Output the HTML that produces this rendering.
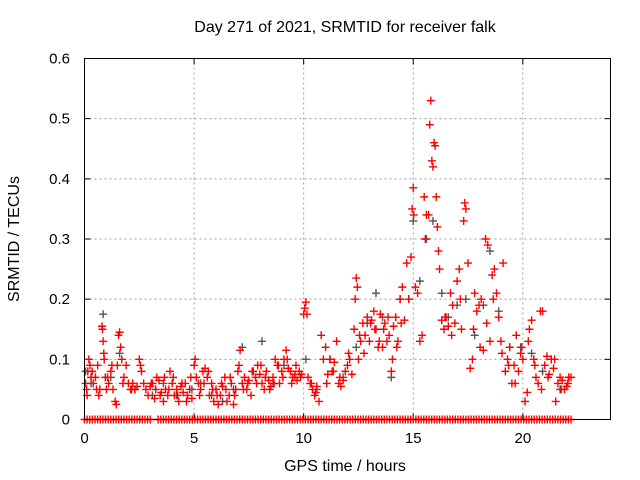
<!DOCTYPE html>
<html><head><meta charset="utf-8"><style>
body{margin:0;background:#fff}
svg{display:block;font-family:"Liberation Sans",sans-serif}
</style></head><body>
<svg id="chart" width="640" height="480" viewBox="0 0 640 480">
<text x="345" y="32" text-anchor="middle" font-size="16">Day 271 of 2021, SRMTID for receiver falk</text>
<text transform="translate(19,239) rotate(-90)" text-anchor="middle" font-size="16">SRMTID / TECUs</text>
<text x="345" y="471" text-anchor="middle" font-size="16">GPS time / hours</text>
<g id="grid"></g>
<g id="axes"></g>
<g id="marks"></g>
<rect x="84.5" y="58.5" width="526" height="361" fill="none" stroke="#000" stroke-width="1"/>
</svg>
<script>
const xTicks=[0,5,10,15,20];
const yTicks=[0,0.1,0.2,0.3,0.4,0.5,0.6];
const yTickLabels=["0","0.1","0.2","0.3","0.4","0.5","0.6"];
const redTimes=[0.05,0.1,0.15,0.2,0.25,0.3,0.4,0.5,0.6,0.7,0.8,0.82,0.85,0.88,0.9,0.95,1.0,1.1,1.2,1.3,1.4,1.45,1.5,1.55,1.6,1.65,1.7,1.8,1.9,2.0,2.1,2.2,2.3,2.4,2.5,2.6,2.7,2.8,2.9,3.0,3.1,3.2,3.3,3.4,3.5,3.6,3.7,3.8,3.9,4.0,4.1,4.2,4.3,4.4,4.5,4.6,4.7,4.8,4.9,5.0,5.05,5.1,5.2,5.3,5.4,5.5,5.6,5.7,5.8,5.9,6.0,6.1,6.2,6.3,6.4,6.5,6.6,6.7,6.8,6.9,7.0,7.1,7.2,7.3,7.4,7.5,7.6,7.7,7.8,7.9,8.0,8.1,8.2,8.3,8.4,8.5,8.6,8.7,8.8,8.9,9.0,9.1,9.2,9.3,9.4,9.5,9.6,9.7,9.8,9.9,10.0,10.05,10.1,10.15,10.2,10.3,10.4,10.5,10.6,10.7,10.8,10.9,11.0,11.1,11.2,11.3,11.4,11.5,11.6,11.7,11.8,11.9,12.0,12.1,12.2,12.3,12.35,12.4,12.45,12.5,12.6,12.7,12.8,12.9,13.0,13.1,13.2,13.3,13.4,13.5,13.6,13.7,13.8,13.9,14.0,14.1,14.2,14.3,14.4,14.5,14.6,14.7,14.8,14.9,14.95,15.0,15.02,15.1,15.2,15.3,15.4,15.5,15.55,15.6,15.7,15.75,15.8,15.85,15.9,15.95,16.0,16.05,16.1,16.2,16.3,16.4,16.5,16.6,16.7,16.8,16.9,17.0,17.1,17.2,17.3,17.35,17.4,17.5,17.6,17.7,17.8,17.9,18.0,18.1,18.2,18.3,18.4,18.5,18.6,18.7,18.8,18.9,19.0,19.1,19.2,19.3,19.4,19.5,19.6,19.7,19.8,19.9,20.0,20.1,20.2,20.3,20.4,20.5,20.6,20.7,20.8,20.9,21.0,21.1,21.2,21.3,21.4,21.5,21.6,21.7,21.8,21.9,22.0,22.1,22.2,
0.12,0.35,0.55,0.65,1.05,1.25,1.75,2.15,2.55,3.05,3.25,3.45,3.65,3.85,4.05,4.25,4.45,4.65,4.85,5.25,5.45,5.65,5.85,6.05,6.25,6.45,6.65,6.85,7.05,7.25,7.45,7.65,7.85,8.05,8.25,8.45,8.65,8.85,9.05,9.25,9.45,9.65,9.85,10.35,10.55,11.05,11.35,11.65,12.05,12.55,12.75,13.05,13.25,13.45,13.65,13.85,14.05,14.25,14.45,16.15,16.45,16.75,17.15,17.75,18.05,18.35,18.65,19.05,19.35,19.65,19.95,20.25,20.55,20.85,21.15,21.45,21.75,22.05];
const redValues=[0.06,0.05,0.08,0.1,0.09,0.07,0.06,0.07,0.09,0.05,0.155,0.15,0.13,0.11,0.1,0.07,0.05,0.06,0.08,0.05,0.03,0.025,0.09,0.14,0.145,0.12,0.1,0.07,0.09,0.06,0.05,0.06,0.05,0.055,0.1,0.08,0.06,0.05,0.04,0.055,0.06,0.035,0.07,0.065,0.045,0.03,0.05,0.04,0.08,0.06,0.04,0.05,0.03,0.055,0.045,0.06,0.04,0.05,0.035,0.09,0.1,0.07,0.06,0.05,0.08,0.085,0.07,0.04,0.06,0.03,0.05,0.025,0.04,0.055,0.07,0.03,0.04,0.06,0.025,0.05,0.08,0.115,0.06,0.07,0.05,0.065,0.04,0.08,0.07,0.09,0.075,0.06,0.05,0.08,0.065,0.055,0.07,0.1,0.09,0.06,0.08,0.1,0.115,0.085,0.08,0.07,0.075,0.065,0.08,0.075,0.175,0.185,0.195,0.175,0.07,0.06,0.05,0.04,0.055,0.03,0.14,0.1,0.12,0.075,0.1,0.08,0.095,0.13,0.06,0.055,0.065,0.08,0.09,0.1,0.075,0.15,0.2,0.235,0.22,0.1,0.13,0.16,0.14,0.17,0.13,0.165,0.18,0.15,0.12,0.175,0.12,0.16,0.13,0.14,0.08,0.155,0.17,0.13,0.2,0.22,0.165,0.26,0.2,0.27,0.35,0.385,0.34,0.22,0.21,0.13,0.14,0.37,0.3,0.34,0.34,0.49,0.53,0.43,0.42,0.46,0.455,0.37,0.32,0.25,0.165,0.15,0.17,0.155,0.21,0.19,0.16,0.23,0.25,0.15,0.33,0.36,0.35,0.26,0.085,0.1,0.21,0.18,0.19,0.2,0.115,0.3,0.29,0.13,0.24,0.25,0.21,0.17,0.13,0.26,0.08,0.1,0.12,0.06,0.09,0.14,0.08,0.11,0.1,0.03,0.045,0.15,0.165,0.1,0.07,0.06,0.18,0.18,0.09,0.105,0.075,0.1,0.085,0.03,0.06,0.07,0.065,0.05,0.055,0.07,0.07,
0.04,0.08,0.05,0.04,0.07,0.09,0.06,0.05,0.09,0.06,0.05,0.04,0.07,0.05,0.07,0.04,0.06,0.03,0.07,0.04,0.06,0.08,0.05,0.04,0.06,0.05,0.07,0.04,0.09,0.05,0.06,0.08,0.06,0.09,0.07,0.05,0.06,0.09,0.07,0.1,0.06,0.09,0.07,0.06,0.045,0.06,0.08,0.07,0.11,0.14,0.11,0.16,0.15,0.13,0.15,0.17,0.1,0.12,0.16,0.28,0.17,0.14,0.2,0.15,0.12,0.16,0.2,0.11,0.09,0.06,0.12,0.13,0.09,0.05,0.07,0.1,0.05,0.06];
const grayTimes=[0.05,0.3,0.85,1.2,1.6,2.3,3.1,3.6,4.2,4.9,5.3,5.8,6.3,6.8,7.2,7.7,8.1,8.6,9.1,9.6,10.1,10.6,11.2,11.8,12.4,12.9,13.3,13.6,14.0,14.4,14.8,15.0,15.3,15.6,15.9,16.3,16.6,17.0,17.4,17.8,18.2,18.5,18.9,19.4,19.9,20.4,20.9,21.3,21.7,22.1];
const grayValues=[0.08,0.06,0.175,0.07,0.11,0.05,0.04,0.06,0.04,0.05,0.06,0.04,0.03,0.05,0.12,0.08,0.13,0.06,0.09,0.07,0.1,0.05,0.1,0.07,0.12,0.16,0.21,0.17,0.07,0.2,0.2,0.33,0.23,0.3,0.33,0.21,0.17,0.19,0.2,0.14,0.19,0.28,0.18,0.12,0.12,0.11,0.08,0.1,0.05,0.07];
const zeroTimes=[];
for(let t=0;t<=22.25;t+=0.12){ if(!(t>3.05&&t<3.35)) zeroTimes.push(+t.toFixed(2)); }

const X0=84.5,X1=610.5,Y0=419.5,Y1=58.5,XMAX=24,YMAX=0.6;
const xs=t=>X0+(X1-X0)*t/XMAX;
const ys=v=>Y0-(Y0-Y1)*v/YMAX;
const NS='http://www.w3.org/2000/svg';
const grid=document.getElementById('grid'),axes=document.getElementById('axes'),marks=document.getElementById('marks');
function mk(tag,attrs,parent){const e=document.createElementNS(NS,tag);for(const k in attrs)e.setAttribute(k,attrs[k]);parent.appendChild(e);return e;}
xTicks.forEach(t=>{
  const x=xs(t);
  if(t>0){const g=mk('line',{x1:x,x2:x,y1:Y0,y2:Y1,stroke:'#a0a0a0','stroke-dasharray':'2,3'},grid);
  
  }
  const tk=mk('path',{d:`M${x},${Y0}v-6M${x},${Y1}v6`,stroke:'#000'},axes);
  
  
  const lb=mk('text',{x:x,y:443,'text-anchor':'middle','font-size':'15'},axes);
  lb.textContent=String(t);
  
  
});
yTicks.forEach((v,i)=>{
  const y=ys(v);
  if(v>0&&v<YMAX){const g=mk('line',{x1:X0,x2:X1,y1:y,y2:y,stroke:'#a0a0a0','stroke-dasharray':'2,3'},grid);
  
  }
  const tk=mk('path',{d:`M${X0},${y}h6M${X1},${y}h-6`,stroke:'#000'},axes);
  
  
  const lb=mk('text',{x:70,y:y+5,'text-anchor':'end','font-size':'15'},axes);
  lb.textContent=yTickLabels[i];
  
  
});
function cross(t,v,color,name){
  const x=xs(t),y=ys(v);
  const p=mk('path',{d:`M${x-4},${y}h8M${x},${y-4}v8`,stroke:color,'stroke-width':'1.4'},marks);
  
  
}
grayTimes.forEach((t,i)=>cross(t,grayValues[i],'#555','gray-point'));
redTimes.forEach((t,i)=>cross(t,redValues[i],'#ff0000','red-point'));
zeroTimes.forEach(t=>cross(t,0,'#ff0000','zero-point'));
</script>
</body></html>
